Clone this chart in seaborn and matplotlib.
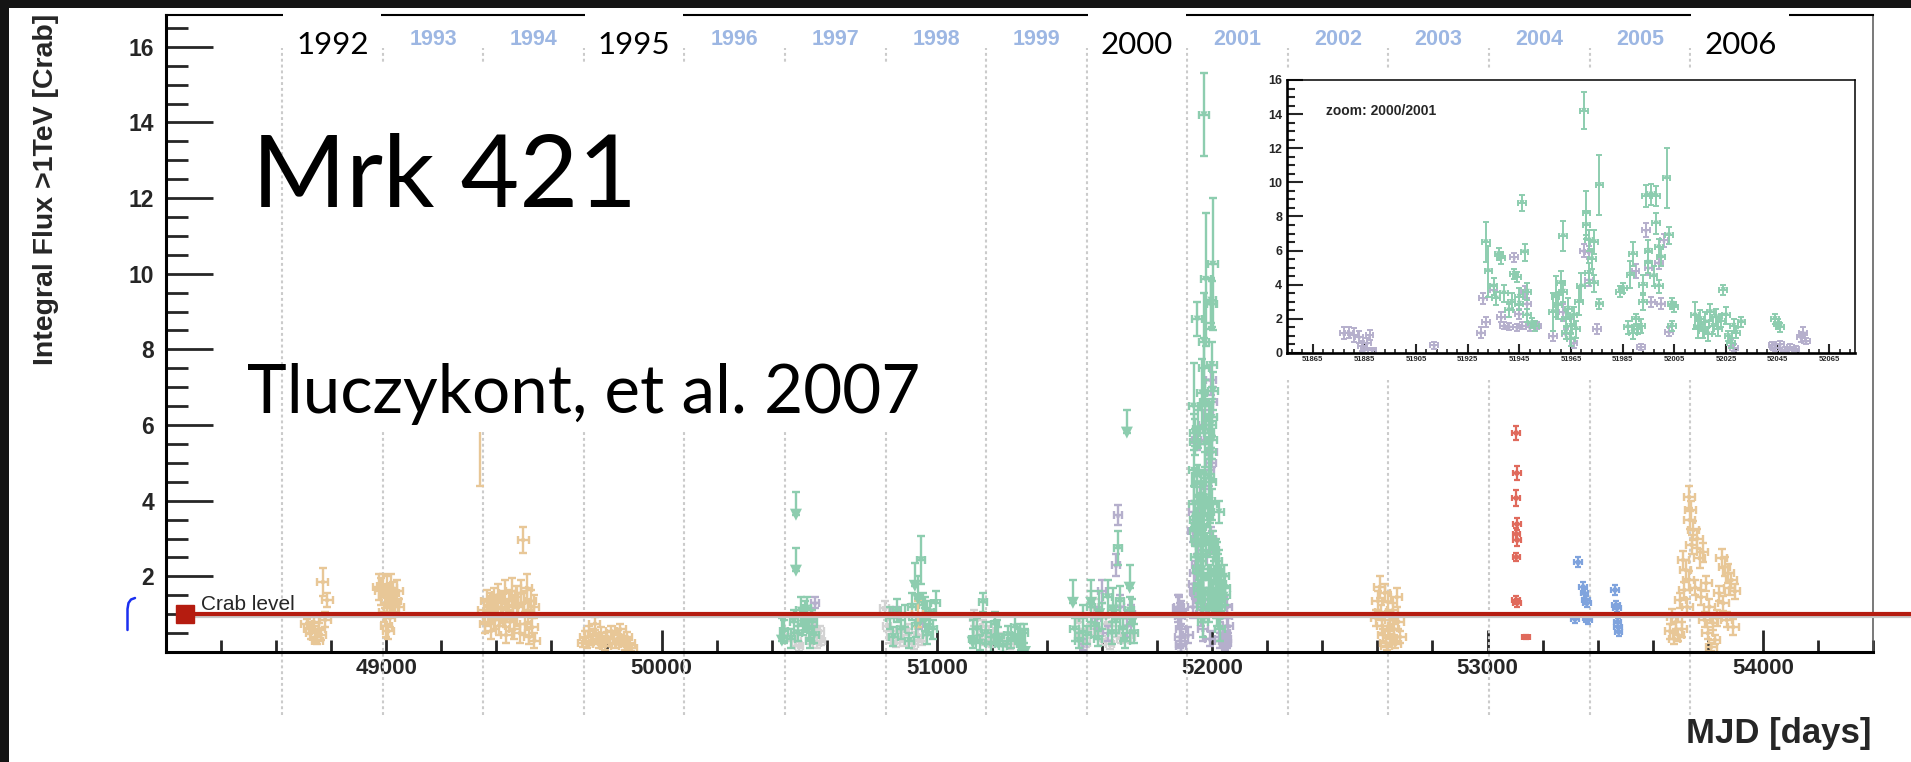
import numpy as np
import pandas as pd
import matplotlib
matplotlib.use("Agg")
import matplotlib.pyplot as plt
import matplotlib.patheffects as pe
from matplotlib.patches import Rectangle
from matplotlib.lines import Line2D
from matplotlib.transforms import blended_transform_factory
from matplotlib.ticker import MultipleLocator, FixedLocator, FuncFormatter
import seaborn as sns

# ---------------- light-curve points: (MJD, flux [Crab], error) ----------------
TAN_1992 = [(48712, 0.75, 0.12), (48720, 0.62, 0.15), (48728, 0.50, 0.15), (48736, 0.80, 0.12),
            (48744, 0.40, 0.15), (48750, 0.30, 0.10), (48756, 0.62, 0.15), (48762, 0.45, 0.12),
            (48770, 1.85, 0.37), (48778, 0.85, 0.20), (48785, 1.37, 0.18)]
TAN_1993 = [(48972, 1.72, 0.35), (48980, 1.60, 0.35), (48988, 1.75, 0.30), (48995, 1.45, 0.30),
            (49003, 1.65, 0.35), (49010, 1.50, 0.30), (49018, 1.70, 0.35), (49025, 1.55, 0.30),
            (49032, 1.35, 0.30), (49040, 1.60, 0.30), (48992, 1.05, 0.25), (49000, 0.70, 0.30),
            (49008, 0.55, 0.20), (49013, 0.90, 0.25), (49045, 1.20, 0.20), (49021, 1.20, 0.20)]
TAN_1994 = [(49340, 6.30, 1.90), (49497, 2.96, 0.34),
            (49355, 1.10, 0.30), (49360, 0.75, 0.25), (49365, 1.35, 0.30), (49370, 0.95, 0.25),
            (49375, 1.25, 0.30), (49380, 0.55, 0.20), (49385, 1.05, 0.25), (49390, 1.40, 0.30),
            (49395, 0.85, 0.25), (49400, 1.20, 0.30), (49405, 1.50, 0.30), (49410, 0.70, 0.25),
            (49415, 1.15, 0.30), (49420, 1.30, 0.30), (49425, 0.95, 0.25), (49430, 1.55, 0.35),
            (49435, 0.45, 0.20), (49440, 1.10, 0.30), (49445, 1.35, 0.30), (49450, 0.80, 0.25),
            (49455, 1.60, 0.35), (49460, 1.20, 0.30), (49465, 0.60, 0.25), (49470, 1.45, 0.30),
            (49475, 1.00, 0.30), (49480, 1.25, 0.30), (49485, 0.50, 0.25), (49490, 1.55, 0.35),
            (49500, 1.30, 0.30), (49505, 0.75, 0.30), (49510, 1.70, 0.35), (49515, 1.10, 0.30),
            (49520, 0.40, 0.20), (49525, 1.35, 0.30), (49530, 0.65, 0.25), (49535, 1.20, 0.30),
            (49538, 0.30, 0.20)]
TAN_1995 = [(49715, 0.25, 0.12), (49722, 0.40, 0.15), (49730, 0.20, 0.10), (49738, 0.55, 0.15),
            (49745, 0.30, 0.12), (49752, 0.45, 0.15), (49758, 0.75, 0.18), (49765, 0.35, 0.12),
            (49772, 0.20, 0.10), (49780, 0.50, 0.15), (49788, 0.30, 0.12), (49795, 0.15, 0.10),
            (49803, 0.40, 0.12), (49810, 0.25, 0.10), (49818, 0.55, 0.15), (49826, 0.35, 0.12),
            (49834, 0.20, 0.10), (49842, 0.45, 0.12), (49850, 0.60, 0.15), (49858, 0.30, 0.12),
            (49866, 0.15, 0.10), (49874, 0.40, 0.12), (49882, 0.25, 0.10), (49890, 0.10, 0.08)]
TAN_1998 = [(50931, 1.00, 0.35)]
TAN_2003 = [(52595, 0.90, 0.20), (52602, 1.35, 0.25), (52608, 1.72, 0.30), (52612, 1.05, 0.20),
            (52618, 0.70, 0.20), (52622, 0.45, 0.15), (52626, 1.56, 0.25), (52630, 0.25, 0.12),
            (52634, 0.15, 0.10), (52638, 1.33, 0.25), (52642, 0.55, 0.15), (52646, 0.85, 0.20),
            (52650, 0.35, 0.12), (52655, 1.10, 0.20), (52660, 0.60, 0.15), (52665, 0.20, 0.10),
            (52670, 1.45, 0.25), (52676, 0.80, 0.20), (52682, 0.40, 0.15)]
TAN_2006 = [(53663, 0.55, 0.20), (53670, 0.93, 0.20), (53678, 0.35, 0.15), (53685, 0.80, 0.20),
            (53692, 0.45, 0.15), (53700, 1.37, 0.20), (53705, 0.60, 0.20), (53710, 2.43, 0.25),
            (53715, 1.64, 0.20), (53720, 2.17, 0.25), (53725, 1.19, 0.20), (53730, 1.90, 0.25),
            (53732, 4.10, 0.30), (53735, 3.49, 0.25), (53738, 3.75, 0.25), (53742, 2.83, 0.25),
            (53748, 3.22, 0.25), (53755, 1.70, 0.20), (53762, 3.00, 0.25), (53770, 2.48, 0.25),
            (53776, 1.45, 0.20), (53782, 2.64, 0.25), (53788, 0.85, 0.20), (53794, 1.82, 0.20),
            (53800, 0.50, 0.15), (53806, 1.20, 0.20), (53812, 0.13, 0.10), (53818, 0.77, 0.20),
            (53825, 0.32, 0.12), (53832, 0.90, 0.20), (53842, 1.55, 0.20), (53850, 2.48, 0.25),
            (53856, 1.29, 0.20), (53862, 2.25, 0.25), (53868, 0.85, 0.20), (53874, 2.08, 0.25),
            (53880, 1.70, 0.20), (53886, 1.90, 0.20), (53892, 0.66, 0.20), (53898, 1.60, 0.20)]

GREEN_1996 = [(50445, 0.55, 0.30), (50470, 0.35, 0.25), (50480, 0.80, 0.30), (50495, 0.50, 0.20),
              (50505, 1.10, 0.35), (50512, 0.75, 0.30), (50520, 0.95, 0.40), (50528, 1.15, 0.30),
              (50535, 0.60, 0.25), (50540, 0.30, 0.20), (50548, 0.80, 0.30), (50555, 0.45, 0.20)]
GREEN_1998 = [(50830, 0.90, 0.30), (50842, 0.40, 0.25), (50855, 1.10, 0.30), (50870, 0.60, 0.25),
              (50885, 0.95, 0.30), (50900, 0.30, 0.20), (50910, 1.20, 0.35), (50925, 0.70, 0.30),
              (50942, 2.43, 0.64), (50950, 1.25, 0.30), (50958, 0.85, 0.30), (50965, 0.45, 0.25),
              (50975, 1.05, 0.30), (50985, 0.60, 0.25), (50995, 1.30, 0.30)]
GREEN_1999 = [(51130, 0.35, 0.25), (51145, 0.60, 0.30), (51158, 0.25, 0.20), (51168, 1.32, 0.25),
              (51180, 0.50, 0.30), (51195, 0.20, 0.20), (51210, 0.75, 0.30), (51222, 0.40, 0.25),
              (51240, 0.15, 0.15), (51258, 0.45, 0.25), (51270, 0.30, 0.20), (51285, 0.65, 0.30),
              (51295, 0.40, 0.20), (51305, 0.20, 0.15), (51315, 0.50, 0.25)]
GREEN_2000 = [(51500, 0.60, 0.30), (51515, 0.30, 0.20), (51530, 0.90, 0.35), (51545, 0.45, 0.25),
              (51560, 1.20, 0.40), (51575, 0.70, 0.30), (51585, 0.35, 0.20), (51600, 0.95, 0.35),
              (51620, 1.45, 0.45), (51635, 0.50, 0.30), (51650, 0.80, 0.30), (51658, 2.75, 0.45),
              (51665, 1.35, 0.40), (51675, 0.60, 0.30), (51685, 0.30, 0.20), (51700, 1.10, 0.35),
              (51715, 0.50, 0.25)]
# upper limits: (MJD, flux limit)
GREEN_UL = [(50437, 0.90), (50488, 4.23), (50488, 2.75), (50920, 2.35), (50931, 2.00),
            (50955, 1.45), (51130, 0.85), (51220, 0.85), (51300, 0.75), (51320, 0.60),
            (51494, 1.90), (51560, 1.90), (51590, 1.60), (51640, 1.70), (51690, 6.40),
            (51700, 2.30), (51710, 1.40)]

GRAY_1996_2000 = [(50460, 0.45, 0.15), (50490, 0.30, 0.15), (50500, 0.15, 0.12), (50540, 0.35, 0.15),
                  (50555, 0.60, 0.15), (50565, 0.25, 0.15), (50575, 0.55, 0.15), (50580, 0.30, 0.12),
                  (50810, 1.15, 0.20), (50820, 0.70, 0.15), (50835, 0.40, 0.15), (50850, 0.25, 0.12),
                  (50868, 0.55, 0.15), (50880, 0.30, 0.15), (50895, 0.60, 0.15), (50915, 0.20, 0.12),
                  (50930, 0.45, 0.15), (50945, 0.30, 0.12),
                  (51135, 0.90, 0.20), (51150, 0.45, 0.15), (51162, 0.70, 0.15), (51175, 0.30, 0.12),
                  (51190, 0.55, 0.15), (51200, 0.25, 0.12), (51230, 0.35, 0.15), (51265, 0.20, 0.12),
                  (51515, 0.80, 0.20), (51525, 0.45, 0.15), (51540, 0.25, 0.12), (51555, 0.60, 0.15),
                  (51570, 1.20, 0.20), (51585, 0.50, 0.15), (51600, 0.30, 0.12), (51615, 0.75, 0.15),
                  (51630, 0.20, 0.12), (51650, 0.55, 0.15), (51670, 0.35, 0.12), (51690, 0.90, 0.20),
                  (51705, 0.40, 0.15)]
LAVENDER_1996_2000 = [(50545, 0.90, 0.20), (50557, 1.30, 0.15), (50850, 1.05, 0.15), (50935, 0.75, 0.15),
                      (51530, 0.20, 0.15), (51580, 0.90, 0.30), (51600, 1.60, 0.30), (51620, 0.50, 0.20),
                      (51650, 2.30, 0.30), (51658, 3.62, 0.27), (51665, 1.20, 0.30), (51690, 0.70, 0.30),
                      (51705, 1.00, 0.25)]

# 2000/2001 flare, shown in both panels
FLARE_GREEN = [(51932, 6.50, 1.15), (51933, 4.80, 1.50), (51935, 3.90, 0.50), (51936, 3.20, 0.40),
               (51937, 5.80, 0.35), (51938, 5.55, 0.35), (51939, 3.50, 0.50), (51941, 2.50, 0.40),
               (51942, 3.00, 0.50), (51943, 4.65, 0.30), (51944, 4.45, 0.30), (51945, 3.30, 0.50),
               (51945, 2.90, 0.40), (51946, 8.80, 0.45), (51947, 5.90, 0.50), (51948, 3.60, 0.50),
               (51948, 2.20, 0.40), (51950, 1.75, 0.30), (51951, 1.60, 0.30), (51958, 2.40, 1.10),
               (51959, 3.30, 1.20), (51960, 2.80, 0.80), (51961, 4.10, 0.70), (51962, 6.85, 0.90),
               (51962, 3.60, 0.60), (51963, 2.00, 0.50), (51963, 1.20, 0.40), (51964, 2.60, 0.60),
               (51965, 1.60, 0.50), (51965, 0.80, 0.40), (51966, 2.20, 0.50), (51967, 1.40, 0.50),
               (51968, 3.00, 0.80), (51969, 3.90, 0.80), (51970, 14.20, 1.10), (51971, 8.20, 1.30),
               (51971, 7.50, 0.80), (51972, 6.60, 0.60), (51972, 4.70, 0.60), (51973, 5.50, 0.60),
               (51974, 6.50, 0.70), (51974, 4.10, 0.50), (51976, 9.85, 1.75), (51976, 2.85, 0.30),
               (51984, 3.60, 0.30), (51985, 3.80, 0.30), (51987, 1.50, 0.40), (51988, 4.60, 0.80),
               (51989, 5.80, 0.70), (51989, 1.20, 0.40), (51990, 2.00, 0.30), (51991, 1.40, 0.30),
               (51992, 1.60, 0.40), (51993, 4.00, 0.60), (51993, 3.00, 0.50), (51994, 9.20, 0.65),
               (51995, 6.00, 0.60), (51995, 5.30, 0.60), (51996, 9.30, 0.60), (51997, 4.50, 0.60),
               (51998, 9.20, 0.60), (51998, 7.60, 0.60), (51999, 6.20, 0.50), (51999, 3.90, 0.40),
               (52000, 5.60, 0.50), (52002, 10.25, 1.75), (52003, 6.90, 0.50), (52004, 1.60, 0.30),
               (52004, 2.90, 0.30), (52005, 2.70, 0.30), (52013, 2.20, 0.80), (52014, 1.50, 0.60),
               (52015, 2.00, 0.50), (52016, 1.30, 0.40), (52017, 1.80, 0.60), (52018, 1.10, 0.40),
               (52019, 2.40, 0.50), (52020, 1.60, 0.50), (52021, 2.10, 0.50), (52022, 1.40, 0.40),
               (52023, 1.90, 0.40), (52024, 3.70, 0.30), (52025, 2.20, 0.50), (52026, 1.00, 0.30),
               (52027, 0.60, 0.30), (52028, 1.60, 0.40), (52029, 1.20, 0.30), (52031, 1.80, 0.30),
               (52044, 2.00, 0.30), (52045, 1.70, 0.30), (52046, 1.50, 0.25)]
FLARE_LAVENDER = [(51877, 1.15, 0.35), (51879, 1.20, 0.30), (51881, 1.05, 0.40), (51883, 0.95, 0.35),
                  (51884, 0.40, 0.30), (51885, 0.20, 0.20), (51886, 0.60, 0.30), (51887, 1.05, 0.30),
                  (51888, 0.15, 0.15), (51912, 0.45, 0.20), (51930, 1.20, 0.30), (51931, 3.20, 0.30),
                  (51932, 1.80, 0.30), (51935, 3.70, 0.30), (51938, 2.10, 0.30), (51939, 1.60, 0.20),
                  (51941, 1.55, 0.20), (51943, 5.60, 0.25), (51944, 1.50, 0.20), (51945, 2.30, 0.30),
                  (51946, 1.60, 0.20), (51947, 3.60, 0.30), (51948, 2.90, 0.30), (51949, 1.50, 0.20),
                  (51952, 1.60, 0.20), (51958, 1.00, 0.30), (51962, 2.40, 0.50), (51963, 1.10, 0.30),
                  (51965, 1.60, 0.40), (51966, 0.60, 0.30), (51970, 6.00, 0.40), (51972, 5.90, 0.40),
                  (51972, 4.30, 0.40), (51975, 1.40, 0.30), (51990, 4.80, 0.40), (51992, 0.35, 0.20),
                  (51994, 7.20, 0.40), (51995, 5.00, 0.40), (51996, 3.00, 0.30), (51999, 5.30, 0.40),
                  (52000, 2.90, 0.30), (52001, 6.60, 0.40), (52003, 1.25, 0.25), (52027, 0.60, 0.20),
                  (52028, 0.30, 0.20), (52043, 0.45, 0.20), (52044, 0.30, 0.20), (52046, 0.50, 0.20),
                  (52048, 0.20, 0.15), (52050, 0.35, 0.20), (52052, 0.25, 0.15), (52054, 0.95, 0.30),
                  (52055, 1.20, 0.30), (52056, 0.70, 0.20)]

RED_2004 = [(53104, 5.79, 0.18), (53106, 4.73, 0.18), (53104, 4.07, 0.20), (53107, 3.38, 0.15),
            (53105, 3.12, 0.15), (53108, 2.96, 0.15), (53105, 2.51, 0.10), (53104, 1.37, 0.10),
            (53108, 1.30, 0.10), (53140, 0.40, 0.05)]
BLUE_2005 = [(53318, 0.87, 0.10), (53329, 2.37, 0.13), (53347, 1.72, 0.12), (53352, 1.55, 0.12),
             (53357, 1.38, 0.10), (53360, 1.29, 0.10), (53362, 0.90, 0.10), (53366, 0.85, 0.10),
             (53463, 1.64, 0.12), (53466, 1.24, 0.10), (53470, 1.16, 0.10), (53472, 0.80, 0.10),
             (53474, 0.66, 0.10), (53476, 0.53, 0.10)]

YEARS = list(range(1992, 2007))
YEAR_START_MJD = [48622, 48988, 49353, 49718, 50083, 50449, 50814, 51179,
                  51544, 51910, 52275, 52640, 53005, 53371, 53736]
HIGHLIGHT_YEARS = [1992, 1995, 2000, 2006]
CRAB_LEVEL = 1.0

MAIN_XTICKS = [49000, 50000, 51000, 52000, 53000, 54000]
INSET_XTICKS = [51865, 51885, 51905, 51925, 51945, 51965, 51985, 52005, 52025, 52045, 52065]

# ---------------- style ----------------
sns.set_theme(style="ticks")
plt.rcParams["font.family"] = ["Liberation Sans", "DejaVu Sans"]
plt.rcParams["axes.facecolor"] = "white"

TAN, GREEN, LAV, GRAY = "#e8c797", "#8dcdaf", "#b5afcc", "#d3d3d3"
RED_PTS, BLUE_PTS = "#e06a5c", "#7fa3dd"
CRAB_RED = "#b51c10"
YEAR_BLUE = "#9db7e3"

W, H, DPI = 1911, 762, 100
fig = plt.figure(figsize=(W / DPI, H / DPI), dpi=DPI)
fig.patch.set_facecolor("white")


def fx(px):
    return px / W


def fy(py):
    return 1 - py / H


# dark slide border along the top and left
fig.add_artist(Rectangle((0, fy(8)), 1, 1 - fy(8), transform=fig.transFigure,
                         facecolor="#141414", edgecolor="none", zorder=10))
fig.add_artist(Rectangle((0, 0), fx(9), 1, transform=fig.transFigure,
                         facecolor="#141414", edgecolor="none", zorder=10))

ax = fig.add_axes([fx(166), fy(652), fx(1873) - fx(166), fy(15) - fy(652)])
ax.set_xlim(48200, 54400)
ax.set_ylim(0, 16.84)
blend = blended_transform_factory(ax.transData, ax.transAxes)


def draw_points(axis, pts, color, xerr, lw, cap, marker, msize, z):
    df = pd.DataFrame(pts, columns=["mjd", "flux", "err"])
    axis.errorbar(df["mjd"], df["flux"], yerr=df["err"], xerr=xerr, fmt="none",
                  ecolor=color, elinewidth=lw, capsize=cap, capthick=lw, zorder=z)
    sns.scatterplot(data=df, x="mjd", y="flux", ax=axis, color=color, marker=marker,
                    s=msize, linewidth=0, edgecolor="none", zorder=z + 0.1, legend=False)


def draw_limits(axis, pts, color, drop, lw, cap, msize, z):
    df = pd.DataFrame(pts, columns=["mjd", "ul"])
    axis.errorbar(df["mjd"], df["ul"], yerr=[np.full(len(df), drop), np.zeros(len(df))],
                  fmt="none", ecolor=color, elinewidth=lw, capsize=cap, capthick=lw, zorder=z)
    sns.scatterplot(x=df["mjd"], y=df["ul"] - drop, ax=axis, color=color, marker="v",
                    s=msize, linewidth=0, edgecolor="none", zorder=z + 0.1, legend=False)


# year boundaries
ax.vlines(YEAR_START_MJD, -0.099, 0.948, transform=blend, colors="#cbcbcb",
          linestyles=(0, (1.4, 1.4)), linewidth=1.5, clip_on=False, zorder=1)

# main light curve
draw_points(ax, GRAY_1996_2000, GRAY, 15, 1.7, 2.6, "s", 12, 2.0)
draw_points(ax, LAVENDER_1996_2000, LAV, 15, 1.7, 2.6, "*", 26, 2.1)
draw_points(ax, FLARE_LAVENDER, LAV, 18, 1.7, 2.6, "*", 26, 2.1)
draw_points(ax, GREEN_1996 + GREEN_1998 + GREEN_1999 + GREEN_2000, GREEN, 15, 1.7, 2.6, "v", 30, 2.2)
draw_points(ax, FLARE_GREEN, GREEN, 18, 1.7, 2.6, "v", 26, 2.2)
draw_limits(ax, GREEN_UL, GREEN, 0.6, 1.7, 2.6, 75, 2.2)
for season in (TAN_1992, TAN_1993, TAN_1994, TAN_1995, TAN_1998, TAN_2003, TAN_2006):
    draw_points(ax, season, TAN, 20, 1.7, 2.6, "o", 10, 2.3)
draw_points(ax, RED_2004, RED_PTS, 14, 1.6, 2.4, "o", 16, 2.4)
draw_points(ax, BLUE_2005, BLUE_PTS, 14, 1.6, 2.4, "o", 16, 2.4)
ax.set_xlabel("")
ax.set_ylabel("")

# white panels under the title block and the inset
ax.add_patch(Rectangle((fx(287), fy(432)), fx(945) - fx(287), fy(63) - fy(432),
                       transform=fig.transFigure, facecolor="white", edgecolor="none",
                       zorder=3, clip_on=False))
ax.add_patch(Rectangle((fx(1250), fy(380)), fx(1870) - fx(1250), fy(68) - fy(380),
                       transform=fig.transFigure, facecolor="white", edgecolor="none",
                       zorder=3, clip_on=False))

# year labels along the top
for year, start in zip(YEARS, YEAR_START_MJD):
    mid = start + 182.5
    if year in HIGHLIGHT_YEARS:
        ax.add_patch(Rectangle((mid - 178, 0.905), 356, 0.1, transform=blend,
                               facecolor="white", edgecolor="none", zorder=3, clip_on=False))
        ax.text(mid, 0.953, str(year), transform=blend, ha="center", va="center",
                fontsize=22.5, family="Lato", color="black", zorder=6)
    else:
        ax.text(mid, 0.962, str(year), transform=blend, ha="center", va="center",
                fontsize=15.5, fontweight="bold", color=YEAR_BLUE, zorder=6)

# Crab reference level
sq_x = ax.get_xlim()[0] + 69
ax.axhline(CRAB_LEVEL, xmin=(185 - 166) / 1707, xmax=(1911 - 166) / 1707, color=CRAB_RED,
           linewidth=3.0, clip_on=False, zorder=7,
           path_effects=[pe.SimpleLineShadow(offset=(0, -1.6), shadow_color="#c9c9c9",
                                             alpha=1.0, rho=1.0), pe.Normal()])
ax.plot([sq_x], [CRAB_LEVEL], marker="s", markersize=12.5, color=CRAB_RED,
        clip_on=False, zorder=8)
ax.text(sq_x + 58, CRAB_LEVEL + 0.1, "Crab level", fontsize=15, va="baseline",
        ha="left", zorder=8)

# axes styling
ax.xaxis.set_major_locator(FixedLocator(MAIN_XTICKS))
ax.xaxis.set_minor_locator(MultipleLocator(200))
ax.yaxis.set_major_locator(MultipleLocator(2))
ax.yaxis.set_minor_locator(MultipleLocator(0.5))
ax.yaxis.set_major_formatter(FuncFormatter(lambda v, p: "" if abs(v) < 1e-9 else f"{v:g}"))
ax.tick_params(axis="y", which="major", direction="in", length=34, width=2.0, pad=8.6,
               labelsize=16.5, right=False)
ax.tick_params(axis="y", which="minor", direction="in", length=16, width=2.0, right=False)
ax.tick_params(axis="x", which="major", direction="in", length=16, width=2.0, pad=4.3,
               labelsize=16, top=False)
ax.tick_params(axis="x", which="minor", direction="in", length=8.5, width=2.0, top=False)
for lab in ax.get_xticklabels() + ax.get_yticklabels():
    lab.set_fontweight("bold")
for side in ("left", "bottom"):
    ax.spines[side].set_linewidth(2.2)
    ax.spines[side].set_color("black")
ax.spines["top"].set_linewidth(1.5)
ax.spines["top"].set_color("black")
ax.spines["right"].set_linewidth(1.1)
ax.spines["right"].set_color("#555555")

# axis titles
fig.text(fx(46), fy(14), "Integral Flux >1TeV [Crab]", rotation=90, ha="center", va="top",
         fontsize=20.5, fontweight="bold")
fig.text(fx(1872), fy(743), "MJD [days]", ha="right", va="baseline", fontsize=25,
         fontweight="bold")

# title block
fig.text(fx(252), fy(207), "Mrk 421", ha="left", va="baseline", fontsize=73, family="Lato",
         color="black")
fig.text(fx(247), fy(413), "Tluczykont, et al. 2007", ha="left", va="baseline", fontsize=48.5,
         family="Lato", color="black")

# small blue bracket mark left of the axis
fig.add_artist(Line2D([fx(127.5), fx(127.5), fx(128.5), fx(131), fx(135)],
                      [fy(630), fy(609), fy(603), fy(599.5), fy(598)],
                      transform=fig.transFigure, color="#1a2ff0", linewidth=1.8))

# ---------------- inset: 2000/2001 zoom ----------------
axi = fig.add_axes([fx(1287), fy(353), fx(1855) - fx(1287), fy(80) - fy(353)])
axi.set_facecolor("white")
draw_points(axi, FLARE_LAVENDER, LAV, 1.5, 1.4, 2.0, "*", 18, 2.0)
draw_points(axi, FLARE_GREEN, GREEN, 1.5, 1.4, 2.0, "v", 16, 2.2)
axi.set_xlim(51855, 52075)
axi.set_ylim(0, 16)
axi.set_xlabel("")
axi.set_ylabel("")
axi.xaxis.set_major_locator(FixedLocator(INSET_XTICKS))
axi.xaxis.set_minor_locator(FixedLocator(np.arange(51857, 52076, 4)))
axi.yaxis.set_major_locator(MultipleLocator(2))
axi.yaxis.set_minor_locator(MultipleLocator(0.5))
axi.tick_params(axis="y", which="major", direction="in", length=11.5, width=1.5, pad=3.5,
                labelsize=9, right=False)
axi.tick_params(axis="y", which="minor", direction="in", length=5.8, width=1.5, right=False)
axi.tick_params(axis="x", which="major", direction="in", length=6.5, width=1.5, pad=2.5,
                labelsize=5.5, top=False)
axi.tick_params(axis="x", which="minor", direction="in", length=3.2, width=1.2, top=False)
for lab in axi.get_xticklabels() + axi.get_yticklabels():
    lab.set_fontweight("bold")
for side in ("left", "bottom"):
    axi.spines[side].set_linewidth(1.9)
    axi.spines[side].set_color("black")
for side in ("top", "right"):
    axi.spines[side].set_linewidth(1.1)
    axi.spines[side].set_color("black")
axi.text(0.069, 0.872, "zoom: 2000/2001", transform=axi.transAxes, fontsize=10,
         fontweight="bold", ha="left", va="baseline")

fig.savefig("out.png", dpi=DPI, facecolor="white")
